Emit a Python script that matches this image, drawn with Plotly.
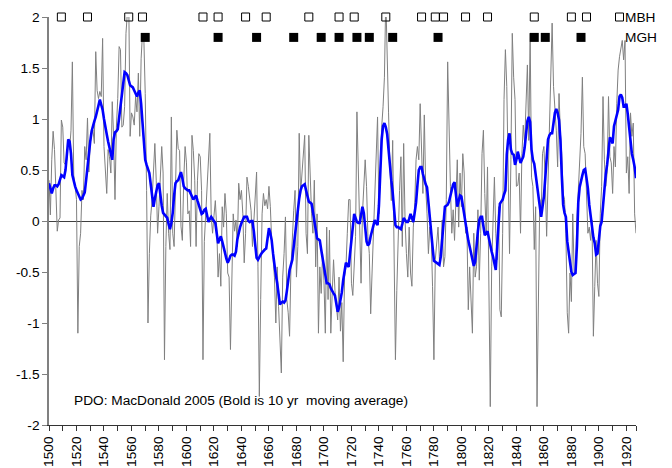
import plotly.graph_objects as go

START_YEAR = 1500

# Annual PDO reconstruction (grey thin line), one row per decade, 1500-1927
pdo_annual = [
    0.40, 0.06, 0.60, 0.88, 0.70, 0.17, -0.10, 0.01, 0.03, 0.99,
    0.92, 0.57, 0.55, 0.60, 0.79, 0.70, 0.89, 1.56, 0.45, 0.34,
    0.21, -1.10, -0.25, -0.12, 0.30, 0.21, 0.73, 0.60, 1.01, 0.48,
    0.76, 0.85, 0.89, 0.76, 1.66, 1.28, 1.20, 1.27, 1.22, 1.79,
    0.73, 0.50, 0.27, 0.70, 0.63, 0.47, 1.17, 0.83, 0.21, 0.92,
    1.20, 1.71, 1.68, 0.92, 0.94, 1.12, 1.84, 2.04, 2.20, 0.83,
    1.06, 1.02, 0.94, 1.22, 1.07, 1.45, 0.83, 1.59, 1.84, 1.79,
    1.25, 0.30, -1.00, -0.32, 0.05, 0.21, 0.50, 0.76, 0.40, -0.12,
    0.14, 0.53, 0.73, 0.47, -1.36, -0.25, 0.27, -0.12, -0.28, 1.02,
    -0.12, -0.25, 0.20, 0.89, 0.71, 0.69, -0.05, -0.19, 0.40, 0.73,
    0.57, 0.07, 0.10, -0.25, 0.84, 0.69, 0.40, -0.25, 0.40, 0.66,
    0.63, 0.30, -1.36, -0.20, 0.07, 0.30, 0.53, 0.86, 0.04, -0.12,
    0.05, 0.20, -0.06, -0.55, -0.32, -0.64, 0.14, -0.06, 0.27, 0.07,
    -0.51, -0.55, -1.26, -0.45, 0.07, -0.10, 0.01, -0.25, 0.37, 0.21,
    0.30, 0.07, -0.41, -0.12, 0.43, 0.34, 0.21, 0.10, -0.25, 0.01,
    0.20, 0.48, -0.45, -1.72, -0.77, 0.07, 0.27, 0.15, 0.21, 0.12,
    0.34, 0.14, -0.19, -0.40, -0.55, -1.00, -0.45, -0.84, -1.10, -1.49,
    -0.55, -0.32, 0.04, -0.77, -0.90, -1.13, -0.45, -0.12, 0.10, 0.30,
    -0.55, -0.25, 0.86, 0.27, 0.47, 0.60, 0.84, -0.12, -0.32, 0.84,
    0.34, 0.07, -0.12, 0.40, -0.45, 0.07, -1.10, -0.45, -0.71, -0.32,
    -0.58, -1.10, -0.06, -0.77, -0.09, -1.10, -0.71, -0.38, -0.68, -0.85,
    -0.97, -0.55, -1.08, -0.80, -1.38, -0.55, -0.45, -0.12, 0.21, 0.21,
    -0.61, -0.73, -0.40, -0.15, 1.07, 0.50, 0.21, -0.61, 0.07, 0.34,
    0.60, 0.34, -0.15, -0.32, -0.91, -0.51, -0.12, 0.34, 0.66, 1.02,
    0.07, 0.53, 0.92, 1.12, 1.41, 2.20, 1.51, 1.06, 0.53, 0.20,
    0.79, -0.45, -1.36, -0.68, -0.12, 0.30, 0.63, -0.25, 0.76, 0.01,
    -0.32, -0.55, -0.06, -0.51, -0.64, -0.06, 0.14, 0.60, 0.73, 0.60,
    1.15, 0.69, 0.27, 1.04, 0.34, 0.07, -0.32, -0.06, -0.12, -0.64,
    -1.36, -0.38, -0.25, -0.06, -0.38, -0.32, 0.01, -0.45, -0.35, 0.21,
    1.56, 0.79, 0.34, -0.12, 0.11, -0.19, 0.21, 0.60, -0.06, 0.47,
    0.14, 0.66, 0.47, -0.12, -0.06, -0.87, -0.45, -0.71, -1.10, -0.12,
    -0.55, -0.45, 0.11, -0.58, -0.12, 0.66, 0.89, 0.27, -0.12, 0.53,
    -0.45, -1.82, -0.45, -0.06, 0.43, -0.12, -0.38, 0.14, -0.87, -0.94,
    -0.12, 1.19, 1.68, 1.32, 0.60, -0.32, 0.60, 1.84, 1.41, 1.19,
    0.34, 0.35, 0.47, -0.12, 0.66, 0.94, 0.76, 1.19, 1.53, 0.79,
    1.84, 0.43, 0.34, -0.28, 0.14, -1.82, -0.64, 0.21, 0.05, 0.66,
    0.73, 0.40, -0.15, 0.34, 0.86, 1.38, 1.94, 1.32, 1.12, 0.89,
    0.53, 1.25, 0.86, 0.66, 0.27, 0.21, -0.12, -0.90, -1.10, -0.51,
    -0.79, 0.07, -0.51, -0.51, 0.01, 0.34, 0.60, 0.86, 1.41, 0.73,
    0.66, 0.21, -0.12, -0.06, -0.19, 0.01, -1.13, -0.64, -0.19, -0.61,
    -0.74, 0.07, 0.34, 1.22, 0.60, 0.34, 0.47, 1.22, 0.63, 0.57,
    0.27, 0.73, 0.53, 1.15, 1.48, 1.61, 1.71, 1.77, 1.58, 1.77,
    0.47, 0.63, 0.27, 1.06, 0.83, 0.96, 0.07, -0.12,
]

# 10-yr moving average (bold blue line), 1500-1927
pdo_ma10 = [
    0.37, 0.33, 0.27, 0.32, 0.35, 0.35, 0.34, 0.36, 0.40, 0.45,
    0.44, 0.43, 0.50, 0.66, 0.80, 0.78, 0.66, 0.45, 0.38, 0.34,
    0.30, 0.27, 0.24, 0.21, 0.22, 0.25, 0.28, 0.40, 0.55, 0.66,
    0.78, 0.88, 0.94, 0.98, 1.02, 1.08, 1.16, 1.19, 1.14, 1.09,
    1.00, 0.91, 0.85, 0.78, 0.73, 0.66, 0.60, 0.80, 0.87, 0.88,
    0.90, 1.02, 1.12, 1.25, 1.38, 1.46, 1.45, 1.43, 1.38, 1.33,
    1.32, 1.31, 1.28, 1.24, 1.22, 1.26, 1.28, 1.15, 0.98, 0.82,
    0.60, 0.55, 0.50, 0.47, 0.36, 0.22, 0.14, 0.22, 0.30, 0.35,
    0.37, 0.25, 0.15, 0.08, 0.06, 0.05, 0.03, -0.03, -0.08, -0.02,
    0.08, 0.25, 0.37, 0.39, 0.40, 0.44, 0.48, 0.42, 0.34, 0.32,
    0.31, 0.30, 0.30, 0.27, 0.23, 0.21, 0.23, 0.25, 0.20, 0.16,
    0.12, 0.07, 0.08, 0.11, 0.12, 0.06, -0.01, 0.02, 0.04, 0.02,
    0.00, -0.02, -0.12, -0.22, -0.18, -0.15, -0.20, -0.27, -0.31, -0.37,
    -0.41, -0.38, -0.34, -0.33, -0.33, -0.34, -0.30, -0.18, -0.10, -0.06,
    -0.02, 0.02, 0.04, 0.04, 0.04, 0.00, -0.01, 0.00, 0.00, -0.10,
    -0.25, -0.36, -0.38, -0.35, -0.33, -0.31, -0.29, -0.28, -0.27, -0.17,
    -0.07, -0.12, -0.19, -0.32, -0.45, -0.53, -0.61, -0.72, -0.82, -0.80,
    -0.79, -0.80, -0.78, -0.69, -0.58, -0.48, -0.43, -0.38, -0.25, -0.12,
    0.00, 0.11, 0.22, 0.30, 0.34, 0.35, 0.36, 0.30, 0.23, 0.19,
    0.18, 0.17, 0.09, 0.01, -0.08, -0.17, -0.18, -0.19, -0.28, -0.37,
    -0.45, -0.53, -0.61, -0.61, -0.62, -0.66, -0.69, -0.71, -0.73, -0.80,
    -0.89, -0.85, -0.78, -0.70, -0.58, -0.50, -0.41, -0.43, -0.45, -0.32,
    -0.19, -0.05, 0.07, 0.03, -0.01, -0.02, -0.02, 0.06, 0.14, 0.08,
    -0.05, -0.20, -0.24, -0.22, -0.15, -0.09, -0.04, 0.01, -0.02, -0.04,
    0.15, 0.45, 0.80, 0.93, 0.96, 0.92, 0.85, 0.70, 0.52, 0.40,
    0.28, 0.12, -0.04, -0.06, -0.06, -0.07, -0.08, -0.03, 0.03, 0.01,
    -0.01, -0.01, 0.02, 0.07, 0.03, -0.01, 0.08, 0.18, 0.35, 0.50,
    0.53, 0.53, 0.46, 0.40, 0.36, 0.33, 0.20, 0.00, -0.10, -0.25,
    -0.39, -0.40, -0.41, -0.42, -0.43, -0.35, -0.22, -0.02, 0.14, 0.15,
    0.16, 0.19, 0.24, 0.30, 0.36, 0.38, 0.25, 0.14, 0.20, 0.25,
    0.24, 0.15, 0.06, -0.04, -0.13, -0.19, -0.25, -0.32, -0.38, -0.44,
    -0.40, -0.22, -0.10, 0.01, 0.04, 0.04, -0.05, -0.14, -0.12, -0.10,
    -0.17, -0.25, -0.30, -0.35, -0.42, -0.48, -0.25, -0.05, 0.17, 0.19,
    0.21, 0.26, 0.30, 0.65, 0.80, 0.86, 0.70, 0.66, 0.65, 0.55,
    0.60, 0.68, 0.62, 0.57, 0.60, 0.63, 0.72, 0.85, 0.98, 1.02,
    0.97, 0.70, 0.60, 0.56, 0.46, 0.38, 0.29, 0.15, 0.04, 0.14,
    0.24, 0.42, 0.60, 0.80, 0.84, 0.86, 0.86, 0.95, 1.06, 1.10,
    1.06, 0.99, 0.80, 0.45, 0.16, 0.08, 0.04, -0.20, -0.33, -0.40,
    -0.50, -0.53, -0.52, -0.51, -0.25, 0.18, 0.33, 0.40, 0.45, 0.50,
    0.51, 0.42, 0.32, 0.16, 0.05, -0.05, -0.16, -0.22, -0.33, -0.32,
    -0.14, -0.05, -0.01, 0.18, 0.37, 0.46, 0.55, 0.70, 0.82, 0.80,
    0.76, 0.93, 0.98, 1.04, 1.09, 1.22, 1.24, 1.21, 1.12, 1.12,
    1.15, 1.05, 0.90, 0.73, 0.66, 0.60, 0.53, 0.42,
]

years = list(range(START_YEAR, START_YEAR + len(pdo_annual)))
ma_years = list(range(START_YEAR, START_YEAR + len(pdo_ma10)))

# Event markers
mbh_years = [1509, 1528, 1558, 1568, 1612, 1623, 1643, 1658, 1689, 1711, 1722,
             1745, 1771, 1781, 1787, 1803, 1819, 1853, 1880, 1891, 1915]
mbh_level = 2.0
mgh_years = [1570, 1623, 1651, 1678, 1698, 1711, 1724, 1733, 1750, 1783,
             1853, 1861, 1887]
mgh_level = 1.8

x_tick_vals = list(range(1500, 1921, 10)) + [1927]
x_tick_text = [str(v) if (v - 1500) % 20 == 0 and v <= 1920 else "" for v in x_tick_vals]
y_tick_vals = [-2, -1.5, -1, -0.5, 0, 0.5, 1, 1.5, 2]
y_tick_text = ["-2", "-1.5", "-1", "-0.5", "0", "0.5", "1", "1.5", "2"]

FONT = "Liberation Sans, Arial, sans-serif"
FS = 13.7

fig = go.Figure()
fig.add_trace(go.Scatter(x=years, y=pdo_annual, mode="lines",
                         line=dict(color="#808080", width=1), hoverinfo="skip"))
fig.add_trace(go.Scatter(x=ma_years, y=pdo_ma10, mode="lines",
                         line=dict(color="#0000FF", width=2.6), hoverinfo="skip"))
fig.add_trace(go.Scatter(x=mbh_years, y=[mbh_level] * len(mbh_years), mode="markers",
                         marker=dict(symbol="square-open", size=8, color="#000000",
                                     line=dict(width=1, color="#000000")),
                         cliponaxis=False, hoverinfo="skip"))
fig.add_trace(go.Scatter(x=mgh_years, y=[mgh_level] * len(mgh_years), mode="markers",
                         marker=dict(symbol="square", size=9, color="#000000"),
                         cliponaxis=False, hoverinfo="skip"))

fig.add_annotation(x=mbh_years[-1], y=mbh_level, text="MBH", showarrow=False,
                   xanchor="left", yanchor="middle", xshift=3,
                   font=dict(family=FONT, size=FS, color="#000000"))
fig.add_annotation(x=mbh_years[-1], y=mgh_level, text="MGH", showarrow=False,
                   xanchor="left", yanchor="middle", xshift=3,
                   font=dict(family=FONT, size=FS, color="#000000"))
fig.add_annotation(xref="paper", x=0.039, y=-1.76,
                   text="PDO: MacDonald 2005 (Bold is 10 yr  moving average)",
                   showarrow=False, xanchor="left", yanchor="middle",
                   font=dict(family=FONT, size=FS, color="#000000"))

fig.update_layout(
    width=672, height=468,
    margin=dict(l=49, r=36, t=17, b=43, pad=0),
    paper_bgcolor="white", plot_bgcolor="white",
    showlegend=False,
    font=dict(family=FONT, size=FS, color="#000000"),
    hovermode=False,
)
fig.update_xaxes(
    range=[1500, 1927], tickmode="array", tickvals=x_tick_vals, ticktext=x_tick_text,
    tickangle=-90, ticks="outside", ticklen=5, tickcolor="#333333",
    showline=True, linecolor="#333333", linewidth=1,
    showgrid=False, zeroline=False, automargin=False,
    tickfont=dict(family=FONT, size=FS, color="#000000"),
)
fig.update_yaxes(
    range=[-2, 2], tickmode="array", tickvals=y_tick_vals, ticktext=y_tick_text,
    ticks="outside", ticklen=5, tickcolor="#808080",
    showline=True, linecolor="#808080", linewidth=1.5,
    showgrid=False, zeroline=True, zerolinecolor="#404040", zerolinewidth=1,
    automargin=False,
    tickfont=dict(family=FONT, size=FS, color="#000000"),
)

fig.write_html("out.html")
